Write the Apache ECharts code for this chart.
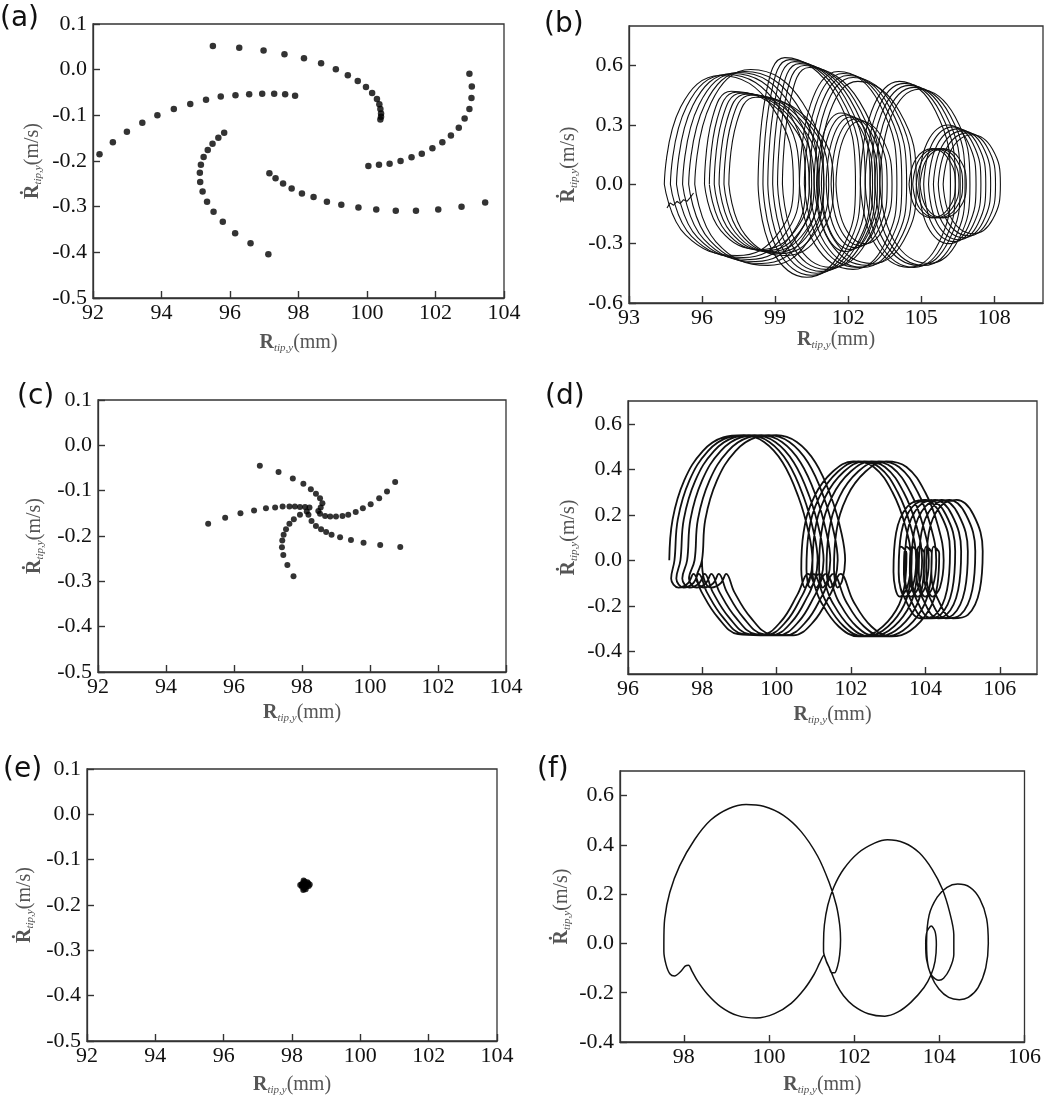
<!DOCTYPE html>
<html>
<head>
<meta charset="utf-8">
<script src="https://cdn.jsdelivr.net/npm/echarts@6/dist/echarts.min.js"></script>
<style>
  html, body { margin: 0; padding: 0; background: #fff; }
  #main { width: 1044px; height: 1097px; }
</style>
</head>
<body>
<div id="main"></div>
<script>
// ---- tick labels ----
const ticksXace = [92, 94, 96, 98, 100, 102, 104];
const ticksYace = [-0.5, -0.4, -0.3, -0.2, -0.1, 0, 0.1];
const ticksXb = [93, 96, 99, 102, 105, 108];
const ticksYb = [-0.6, -0.3, 0, 0.3, 0.6];
const ticksXd = [96, 98, 100, 102, 104, 106];
const ticksYd = [-0.4, -0.2, 0, 0.2, 0.4, 0.6];
const ticksXf = [98, 100, 102, 104, 106];
const ticksYf = [-0.4, -0.2, 0, 0.2, 0.4, 0.6];

// ---- (a) poincare points, five arms ----
const aArm1 = [[95.50,0.052],[96.27,0.048],[96.98,0.042],[97.59,0.034],[98.16,0.025],[98.66,0.014],[99.09,0.001],[99.44,-0.012],[99.73,-0.025],[99.97,-0.038],[100.15,-0.051],[100.29,-0.064],[100.36,-0.076],[100.39,-0.086],[100.41,-0.096],[100.41,-0.103],[100.39,-0.109]];
const aArm2 = [[92.19,-0.185],[92.58,-0.159],[92.99,-0.136],[93.44,-0.116],[93.88,-0.100],[94.36,-0.086],[94.84,-0.075],[95.30,-0.066],[95.73,-0.059],[96.16,-0.056],[96.56,-0.054],[96.94,-0.053],[97.29,-0.053],[97.61,-0.054],[97.90,-0.057]];
const aArm3 = [[95.83,-0.138],[95.66,-0.149],[95.49,-0.162],[95.35,-0.176],[95.23,-0.191],[95.15,-0.208],[95.12,-0.226],[95.13,-0.246],[95.20,-0.267],[95.33,-0.289],[95.52,-0.311],[95.79,-0.333],[96.15,-0.358],[96.60,-0.380],[97.12,-0.404]];
const aArm4 = [[97.15,-0.227],[97.33,-0.238],[97.55,-0.249],[97.80,-0.260],[98.10,-0.271],[98.44,-0.279],[98.83,-0.289],[99.25,-0.296],[99.75,-0.302],[100.27,-0.306],[100.84,-0.309],[101.43,-0.309],[102.08,-0.306],[102.76,-0.300],[103.45,-0.291]];
const aArm5 = [[100.04,-0.211],[100.35,-0.208],[100.66,-0.206],[100.98,-0.200],[101.30,-0.192],[101.60,-0.184],[101.91,-0.172],[102.20,-0.159],[102.45,-0.144],[102.68,-0.127],[102.85,-0.107],[102.99,-0.086],[103.05,-0.062],[103.06,-0.037],[102.99,-0.009]];

// ---- (c) poincare points ----
const cArm1 = [[96.76,-0.045],[97.31,-0.059],[97.73,-0.073],[98.04,-0.085],[98.26,-0.097],[98.41,-0.107],[98.53,-0.117],[98.60,-0.128],[98.55,-0.137],[98.48,-0.145]];
const cArm2 = [[95.24,-0.173],[95.74,-0.160],[96.19,-0.150],[96.59,-0.144],[96.94,-0.139],[97.21,-0.137],[97.43,-0.135],[97.63,-0.135],[97.79,-0.135],[97.94,-0.136],[98.09,-0.136],[98.22,-0.137]];
const cArm3 = [[98.14,-0.146],[97.94,-0.153],[97.76,-0.163],[97.63,-0.173],[97.53,-0.185],[97.46,-0.197],[97.42,-0.210],[97.41,-0.225],[97.45,-0.242],[97.57,-0.264],[97.75,-0.289]];
const cArm4 = [[98.19,-0.153],[98.28,-0.167],[98.41,-0.178],[98.56,-0.185],[98.71,-0.191],[98.87,-0.197],[99.12,-0.203],[99.44,-0.209],[99.81,-0.215],[100.30,-0.220],[100.89,-0.224]];
const cArm5 = [[98.53,-0.151],[98.68,-0.156],[98.83,-0.157],[99.00,-0.157],[99.19,-0.156],[99.36,-0.153],[99.58,-0.147],[99.79,-0.139],[100.02,-0.130],[100.27,-0.117],[100.50,-0.102],[100.74,-0.081]];

// ---- (e) poincare points (tight cluster) ----
const ePts = [[98.34,-0.146],[98.37,-0.148],[98.33,-0.151],[98.28,-0.154],[98.24,-0.156],[98.30,-0.157],[98.36,-0.155],[98.42,-0.154],[98.47,-0.152],[98.52,-0.155],[98.49,-0.158],[98.43,-0.159],[98.38,-0.161],[98.35,-0.164],[98.33,-0.167],[98.40,-0.165],[98.29,-0.160],[98.45,-0.150]];

// ---- (f) periodic orbit ----
const fOrbit = [[97.53,0],[97.55,0.101],[97.67,0.208],[97.90,0.315],[98.25,0.421],[98.63,0.501],[99.06,0.548],[99.46,0.564],[99.87,0.557],[100.33,0.521],[100.75,0.455],[101.14,0.355],[101.41,0.248],[101.58,0.155],[101.66,0.075],[101.68,0.015],[101.66,-0.045],[101.61,-0.092],[101.54,-0.119],[101.47,-0.119],[101.41,-0.096],[101.33,-0.065],[101.28,-0.032],[101.28,0],
[101.30,0.075],[101.38,0.155],[101.52,0.228],[101.75,0.301],[102.10,0.368],[102.49,0.408],[102.78,0.421],[103.18,0.408],[103.53,0.368],[103.83,0.301],[104.07,0.221],[104.24,0.128],[104.34,0.035],[104.34,-0.045],[104.24,-0.105],[104.10,-0.141],[103.99,-0.149],[103.83,-0.132],[103.73,-0.085],[103.70,0],
[103.76,0.115],[103.95,0.188],[104.18,0.228],[104.43,0.241],[104.72,0.228],[104.95,0.181],[105.11,0.101],[105.15,0],[105.09,-0.099],[104.91,-0.179],[104.68,-0.219],[104.47,-0.228],[104.22,-0.219],[103.99,-0.185],[103.81,-0.132],[103.70,-0.065],[103.68,0],
[103.71,0.048],[103.81,0.071],[103.90,0.048],[103.93,-0.005],[103.90,-0.072],[103.81,-0.125],[103.64,-0.179],
[103.33,-0.239],[103.02,-0.279],[102.72,-0.295],[102.33,-0.285],[101.98,-0.252],[101.75,-0.212],[101.58,-0.165],[101.45,-0.112],[101.35,-0.075],[101.29,-0.048],
[101.19,-0.079],[101.06,-0.125],[100.83,-0.185],[100.52,-0.243],[100.13,-0.285],[99.70,-0.303],[99.25,-0.292],[98.86,-0.256],[98.55,-0.205],[98.32,-0.152],[98.19,-0.112],[98.11,-0.088],[98.03,-0.092],[97.92,-0.115],[97.78,-0.132],[97.67,-0.123],[97.58,-0.085],[97.53,-0.032],[97.53,0]];

// ---- (d) quasi-periodic trajectory, six passes ----
const dPass1 = [[97.11,0],[97.20,0.18],[97.51,0.35],[98.01,0.48],[98.56,0.54],[99.11,0.55],[99.66,0.52],[100.16,0.43],[100.58,0.28],[100.86,0.12],[100.96,0],[100.88,-0.09],[100.76,-0.12],
[100.66,-0.04],[100.72,0.12],[101.01,0.28],[101.51,0.39],[102.06,0.435],[102.61,0.41],[103.11,0.3],[103.46,0.15],[103.61,0],[103.51,-0.12],[103.31,-0.16],
[103.14,-0.05],[103.21,0.12],[103.51,0.235],[103.96,0.265],[104.41,0.2],[104.66,0.04],[104.58,-0.13],[104.26,-0.24],[103.86,-0.255],[103.48,-0.18],[103.28,-0.06],
[103.34,0.06],[103.49,0.03],[103.44,-0.11],[103.21,-0.22],
[102.71,-0.31],[102.21,-0.335],[101.66,-0.29],[101.18,-0.18],[100.84,-0.06],
[100.56,-0.15],[100.11,-0.27],[99.56,-0.33],[98.96,-0.325],[98.41,-0.25],[97.98,-0.14],[97.76,-0.06],[97.62,-0.1],[97.36,-0.12],[97.16,-0.08]];
const dPass2 = [[97.25,0],[97.34,0.18],[97.65,0.35],[98.15,0.48],[98.7,0.54],[99.25,0.55],[99.8,0.52],[100.3,0.43],[100.72,0.28],[101.0,0.12],[101.1,0],[101.02,-0.09],[100.9,-0.12],
[100.8,-0.04],[100.86,0.12],[101.15,0.28],[101.65,0.39],[102.2,0.435],[102.75,0.41],[103.25,0.3],[103.6,0.15],[103.75,0],[103.65,-0.12],[103.45,-0.16],
[103.28,-0.05],[103.35,0.12],[103.65,0.235],[104.1,0.265],[104.55,0.2],[104.8,0.04],[104.72,-0.13],[104.4,-0.24],[104.0,-0.255],[103.62,-0.18],[103.42,-0.06],
[103.48,0.06],[103.63,0.03],[103.58,-0.11],[103.35,-0.22],
[102.85,-0.31],[102.35,-0.335],[101.8,-0.29],[101.32,-0.18],[100.98,-0.06],
[100.7,-0.15],[100.25,-0.27],[99.7,-0.33],[99.1,-0.325],[98.55,-0.25],[98.12,-0.14],[97.9,-0.06],[97.76,-0.1],[97.5,-0.12],[97.3,-0.08]];
const dPass3 = [[97.41,0],[97.5,0.18],[97.81,0.35],[98.31,0.48],[98.86,0.54],[99.41,0.55],[99.96,0.52],[100.46,0.43],[100.88,0.28],[101.16,0.12],[101.26,0],[101.18,-0.09],[101.06,-0.12],
[100.96,-0.04],[101.02,0.12],[101.31,0.28],[101.81,0.39],[102.36,0.435],[102.91,0.41],[103.41,0.3],[103.76,0.15],[103.91,0],[103.81,-0.12],[103.61,-0.16],
[103.44,-0.05],[103.51,0.12],[103.81,0.235],[104.26,0.265],[104.71,0.2],[104.96,0.04],[104.88,-0.13],[104.56,-0.24],[104.16,-0.255],[103.78,-0.18],[103.58,-0.06],
[103.64,0.06],[103.79,0.03],[103.74,-0.11],[103.51,-0.22],
[103.01,-0.31],[102.51,-0.335],[101.96,-0.29],[101.48,-0.18],[101.14,-0.06],
[100.86,-0.15],[100.41,-0.27],[99.86,-0.33],[99.26,-0.325],[98.71,-0.25],[98.28,-0.14],[98.06,-0.06],[97.92,-0.1],[97.66,-0.12],[97.46,-0.08]];
const dPass4 = [[97.59,0],[97.68,0.18],[97.99,0.35],[98.49,0.48],[99.04,0.54],[99.59,0.55],[100.14,0.52],[100.64,0.43],[101.06,0.28],[101.34,0.12],[101.44,0],[101.36,-0.09],[101.24,-0.12],
[101.14,-0.04],[101.2,0.12],[101.49,0.28],[101.99,0.39],[102.54,0.435],[103.09,0.41],[103.59,0.3],[103.94,0.15],[104.09,0],[103.99,-0.12],[103.79,-0.16],
[103.62,-0.05],[103.69,0.12],[103.99,0.235],[104.44,0.265],[104.89,0.2],[105.14,0.04],[105.06,-0.13],[104.74,-0.24],[104.34,-0.255],[103.96,-0.18],[103.76,-0.06],
[103.82,0.06],[103.97,0.03],[103.92,-0.11],[103.69,-0.22],
[103.19,-0.31],[102.69,-0.335],[102.14,-0.29],[101.66,-0.18],[101.32,-0.06],
[101.04,-0.15],[100.59,-0.27],[100.04,-0.33],[99.44,-0.325],[98.89,-0.25],[98.46,-0.14],[98.24,-0.06],[98.1,-0.1],[97.84,-0.12],[97.64,-0.08]];
const dPass5 = [[97.79,0],[97.88,0.18],[98.19,0.35],[98.69,0.48],[99.24,0.54],[99.79,0.55],[100.34,0.52],[100.84,0.43],[101.26,0.28],[101.54,0.12],[101.64,0],[101.56,-0.09],[101.44,-0.12],
[101.34,-0.04],[101.4,0.12],[101.69,0.28],[102.19,0.39],[102.74,0.435],[103.29,0.41],[103.79,0.3],[104.14,0.15],[104.29,0],[104.19,-0.12],[103.99,-0.16],
[103.82,-0.05],[103.89,0.12],[104.19,0.235],[104.64,0.265],[105.09,0.2],[105.34,0.04],[105.26,-0.13],[104.94,-0.24],[104.54,-0.255],[104.16,-0.18],[103.96,-0.06],
[104.02,0.06],[104.17,0.03],[104.12,-0.11],[103.89,-0.22],
[103.39,-0.31],[102.89,-0.335],[102.34,-0.29],[101.86,-0.18],[101.52,-0.06],
[101.24,-0.15],[100.79,-0.27],[100.24,-0.33],[99.64,-0.325],[99.09,-0.25],[98.66,-0.14],[98.44,-0.06],[98.3,-0.1],[98.04,-0.12],[97.84,-0.08]];
const dPass6 = [[97.99,0],[98.08,0.18],[98.39,0.35],[98.89,0.48],[99.44,0.54],[99.99,0.55],[100.54,0.52],[101.04,0.43],[101.46,0.28],[101.74,0.12],[101.84,0],[101.76,-0.09],[101.64,-0.12],
[101.54,-0.04],[101.6,0.12],[101.89,0.28],[102.39,0.39],[102.94,0.435],[103.49,0.41],[103.99,0.3],[104.34,0.15],[104.49,0],[104.39,-0.12],[104.19,-0.16],
[104.02,-0.05],[104.09,0.12],[104.39,0.235],[104.84,0.265],[105.29,0.2],[105.54,0.04],[105.46,-0.13],[105.14,-0.24],[104.74,-0.255],[104.36,-0.18],[104.16,-0.06],
[104.22,0.06],[104.37,0.03],[104.32,-0.11],[104.09,-0.22],
[103.59,-0.31],[103.09,-0.335],[102.54,-0.29],[102.06,-0.18],[101.72,-0.06],
[101.44,-0.15],[100.99,-0.27],[100.44,-0.33],[99.84,-0.325],[99.29,-0.25],[98.86,-0.14],[98.64,-0.06],[98.5,-0.1],[98.24,-0.12],[98.04,-0.08],[97.99,0]];

// ---- (b) chaotic trajectory, read as groups of loops ----
const bLoops = [
  // left outer group
  [[94.45,0],[95.12,0.39],[96.75,0.55],[98.88,0.39],[99.75,0],[99.08,-0.256],[97.45,-0.36],[95.32,-0.256]],
  [[94.70,0],[95.37,0.394],[97.00,0.555],[99.13,0.394],[100.0,0],[99.33,-0.263],[97.70,-0.37],[95.57,-0.263]],
  [[94.95,0],[95.62,0.398],[97.25,0.56],[99.38,0.398],[100.25,0],[99.58,-0.27],[97.95,-0.38],[95.82,-0.27]],
  [[95.20,0],[95.87,0.401],[97.50,0.565],[99.63,0.401],[100.5,0],[99.83,-0.277],[98.2,-0.39],[96.07,-0.277]],
  [[95.45,0],[96.12,0.405],[97.75,0.57],[99.88,0.405],[100.75,0],[100.08,-0.284],[98.45,-0.40],[96.32,-0.284]],
  [[95.70,0],[96.37,0.412],[98.0,0.58],[100.13,0.412],[101.0,0],[100.33,-0.291],[98.7,-0.41],[96.57,-0.291]],
  // left inner group
  [[96.1,0],[96.42,0.334],[97.2,0.47],[99.47,0.334],[100.4,0],[99.82,-0.234],[98.4,-0.33],[96.77,-0.234]],
  [[96.3,0],[96.62,0.33],[97.4,0.465],[99.67,0.33],[100.6,0],[100.02,-0.238],[98.6,-0.335],[96.97,-0.238]],
  [[96.5,0],[96.82,0.327],[97.6,0.46],[99.87,0.327],[100.8,0],[100.22,-0.241],[98.8,-0.34],[97.17,-0.241]],
  [[96.7,0],[97.02,0.323],[97.8,0.455],[100.07,0.323],[101.0,0],[100.42,-0.245],[99.0,-0.345],[97.37,-0.245]],
  [[96.9,0],[97.22,0.32],[98.0,0.45],[100.27,0.32],[101.2,0],[100.62,-0.249],[99.2,-0.35],[97.57,-0.249]],
  [[97.1,0],[97.42,0.312],[98.2,0.44],[100.47,0.312],[101.4,0],[100.82,-0.256],[99.4,-0.36],[97.77,-0.256]],
  // tall group
  [[98.3,0],[98.62,0.454],[99.4,0.64],[101.46,0.454],[102.3,0],[101.72,-0.334],[100.3,-0.47],[98.88,-0.334]],
  [[98.5,0],[98.82,0.447],[99.6,0.63],[101.66,0.447],[102.5,0],[101.92,-0.327],[100.5,-0.46],[99.08,-0.327]],
  [[98.7,0],[99.02,0.44],[99.8,0.62],[101.86,0.44],[102.7,0],[102.12,-0.32],[100.7,-0.45],[99.28,-0.32]],
  [[98.9,0],[99.22,0.433],[100.0,0.61],[102.06,0.433],[102.9,0],[102.32,-0.312],[100.9,-0.44],[99.48,-0.312]],
  [[99.1,0],[99.42,0.426],[100.2,0.6],[102.26,0.426],[103.1,0],[102.52,-0.305],[101.1,-0.43],[99.68,-0.305]],
  [[99.3,0],[99.62,0.419],[100.4,0.59],[102.46,0.419],[103.3,0],[102.72,-0.298],[101.3,-0.42],[99.88,-0.298]],
  // middle group
  [[100.0,0],[100.46,0.405],[101.6,0.57],[103.3,0.405],[104.0,0],[103.48,-0.305],[102.2,-0.43],[100.64,-0.305]],
  [[100.2,0],[100.66,0.398],[101.8,0.56],[103.5,0.398],[104.2,0],[103.68,-0.298],[102.4,-0.42],[100.84,-0.298]],
  [[100.4,0],[100.86,0.39],[102.0,0.55],[103.7,0.39],[104.4,0],[103.88,-0.298],[102.6,-0.42],[101.04,-0.298]],
  [[100.6,0],[101.06,0.383],[102.2,0.54],[103.9,0.383],[104.6,0],[104.08,-0.291],[102.8,-0.41],[101.24,-0.291]],
  [[100.8,0],[101.26,0.369],[102.4,0.52],[104.1,0.369],[104.8,0],[104.28,-0.284],[103.0,-0.40],[101.44,-0.284]],
  // dense core
  [[100.7,0],[100.99,0.256],[101.7,0.36],[102.62,0.256],[103.0,0],[102.68,-0.241],[101.9,-0.34],[101.05,-0.241]],
  [[100.9,0],[101.19,0.249],[101.9,0.35],[102.82,0.249],[103.2,0],[102.88,-0.234],[102.1,-0.33],[101.25,-0.234]],
  [[101.1,0],[101.39,0.241],[102.1,0.34],[103.02,0.241],[103.4,0],[103.08,-0.227],[102.3,-0.32],[101.45,-0.227]],
  [[101.3,0],[101.59,0.234],[102.3,0.33],[103.22,0.234],[103.6,0],[103.28,-0.22],[102.5,-0.31],[101.65,-0.22]],
  [[101.5,0],[101.79,0.227],[102.5,0.32],[103.42,0.227],[103.8,0],[103.48,-0.213],[102.7,-0.30],[101.85,-0.213]],
  // right big group
  [[102.5,0],[102.96,0.369],[104.1,0.52],[105.59,0.369],[106.2,0],[105.71,-0.298],[104.5,-0.42],[103.08,-0.298]],
  [[102.7,0],[103.16,0.362],[104.3,0.51],[105.79,0.362],[106.4,0],[105.91,-0.298],[104.7,-0.42],[103.28,-0.298]],
  [[102.9,0],[103.36,0.355],[104.5,0.5],[105.99,0.355],[106.6,0],[106.11,-0.291],[104.9,-0.41],[103.48,-0.291]],
  [[103.1,0],[103.56,0.348],[104.7,0.49],[106.19,0.348],[106.8,0],[106.31,-0.291],[105.1,-0.41],[103.68,-0.291]],
  [[103.3,0],[103.76,0.341],[104.9,0.48],[106.39,0.341],[107.0,0],[106.51,-0.284],[105.3,-0.40],[103.88,-0.284]],
  // rightmost group
  [[104.9,0],[105.25,0.213],[106.1,0.3],[106.92,0.213],[107.25,0],[106.93,-0.213],[106.15,-0.3],[105.26,-0.213]],
  [[105.1,0],[105.45,0.206],[106.3,0.29],[107.12,0.206],[107.45,0],[107.13,-0.206],[106.35,-0.29],[105.46,-0.206]],
  [[105.3,0],[105.65,0.199],[106.5,0.28],[107.32,0.199],[107.65,0],[107.33,-0.199],[106.55,-0.28],[105.66,-0.199]],
  [[105.5,0],[105.85,0.192],[106.7,0.27],[107.52,0.192],[107.85,0],[107.53,-0.192],[106.75,-0.27],[105.86,-0.192]],
  [[105.7,0],[106.05,0.185],[106.9,0.26],[107.72,0.185],[108.05,0],[107.73,-0.185],[106.95,-0.26],[106.06,-0.185]],
  [[105.9,0],[106.25,0.178],[107.1,0.25],[107.92,0.178],[108.25,0],[107.93,-0.178],[107.15,-0.25],[106.26,-0.178]],
  // inner right small group
  [[104.5,0],[104.78,0.128],[105.45,0.18],[106.12,0.128],[106.4,0],[106.12,-0.121],[105.45,-0.17],[104.78,-0.121]],
  [[104.65,0],[104.93,0.128],[105.6,0.18],[106.27,0.128],[106.55,0],[106.27,-0.121],[105.6,-0.17],[104.93,-0.121]],
  [[104.8,0],[105.08,0.128],[105.75,0.18],[106.42,0.128],[106.7,0],[106.42,-0.121],[105.75,-0.17],[105.08,-0.121]],
  [[104.95,0],[105.23,0.128],[105.9,0.18],[106.57,0.128],[106.85,0],[106.57,-0.121],[105.9,-0.17],[105.23,-0.121]]
];
const bZigzag = [[94.56,-0.120],[94.69,-0.094],[94.83,-0.106],[94.97,-0.086],[95.10,-0.098],[95.24,-0.078],[95.38,-0.086],[95.52,-0.066],[95.65,-0.044]];

// ---- layout ----
const panels = [
  { grid: { left: 93, top: 24, width: 411, height: 274 }, x: [92, 104, ticksXace], y: [-0.5, 0.1, ticksYace], xGap: 34, yGap: 49 },
  { grid: { left: 629, top: 26, width: 414, height: 277 }, x: [93, 110, ticksXb], y: [-0.6, 0.8, ticksYb], xGap: 25, yGap: 49 },
  { grid: { left: 98, top: 400, width: 408, height: 272 }, x: [92, 104, ticksXace], y: [-0.5, 0.1, ticksYace], xGap: 30, yGap: 52 },
  { grid: { left: 628, top: 401, width: 409, height: 273 }, x: [96, 107, ticksXd], y: [-0.5, 0.7, ticksYd], xGap: 30, yGap: 48 },
  { grid: { left: 87, top: 769, width: 410, height: 274 }, x: [92, 104, ticksXace], y: [-0.5, 0.1, ticksYace], xGap: 33, yGap: 51 },
  { grid: { left: 620, top: 771, width: 412, height: 274 }, x: [96.5, 106, ticksXf], y: [-0.4, 0.7, ticksYf], xGap: 32, yGap: 47 }
];
const panelLabels = [['(a)', 0, 5], ['(b)', 544, 11], ['(c)', 17, 383], ['(d)', 545, 383], ['(e)', 3, 756], ['(f)', 537, 756]];

const serif = 'Liberation Serif';
const axisColor = '#333';
const nameRich = {
  b: { fontFamily: serif, fontWeight: 'bold', fontSize: 20, color: '#555', lineHeight: 22 },
  s: { fontFamily: serif, fontStyle: 'italic', fontSize: 11, color: '#555', lineHeight: 22, verticalAlign: 'bottom', padding: [8, 0, 0, 0] },
  u: { fontFamily: serif, fontSize: 20, color: '#555', lineHeight: 22 }
};
const tickRich = { t: { fontFamily: serif, fontSize: 22, color: '#111', lineHeight: 24 } };
const nPanels = panels.length;

const grids = [], xAxes = [], yAxes = [], series = [];
panels.forEach((p, i) => {
  grids.push(Object.assign({ show: true, borderColor: axisColor, borderWidth: 1.3, backgroundColor: 'transparent' }, p.grid));
  // the visible axes sit "on zero" of a hidden 0..1 helper axis, i.e. on the frame's bottom / left edge
  xAxes.push({
    type: 'value', gridIndex: i, min: p.x[0], max: p.x[1],
    name: '{b|R}{s|tip,y}{u|(mm)}', nameLocation: 'middle', nameGap: p.xGap,
    nameTextStyle: { rich: nameRich },
    axisLine: { show: true, onZero: true, onZeroAxisIndex: nPanels + i, lineStyle: { color: axisColor, width: 1.3 } },
    axisTick: { show: true, inside: true, length: 7, customValues: p.x[2], lineStyle: { color: axisColor, width: 1.4 } },
    axisLabel: { customValues: p.x[2], margin: 3, rich: tickRich, formatter: v => '{t|' + Math.round(v) + '}' },
    splitLine: { show: false }
  });
  yAxes.push({
    type: 'value', gridIndex: i, min: p.y[0], max: p.y[1],
    name: '{b|Ṙ}{s|tip,y}{u|(m/s)}', nameLocation: 'middle', nameGap: p.yGap,
    nameTextStyle: { rich: nameRich },
    axisLine: { show: true, onZero: true, onZeroAxisIndex: nPanels + i, lineStyle: { color: axisColor, width: 1.3 } },
    axisTick: { show: true, inside: true, length: 7, customValues: p.y[2], lineStyle: { color: axisColor, width: 1.4 } },
    axisLabel: { customValues: p.y[2], margin: 6, rich: tickRich, formatter: v => '{t|' + v.toFixed(1) + '}' },
    splitLine: { show: false }
  });
});
panels.forEach((p, i) => {
  xAxes.push({ type: 'value', gridIndex: i, min: 0, max: 1, show: false, axisLine: { onZero: false } });
  yAxes.push({ type: 'value', gridIndex: i, min: 0, max: 1, show: false, axisLine: { onZero: false } });
});

function dots(idx, data, size) {
  series.push({ type: 'scatter', xAxisIndex: idx, yAxisIndex: idx, data: data, symbol: 'circle', symbolSize: size, itemStyle: { color: '#000' }, silent: true });
}
function curve(idx, data, smooth, width) {
  series.push({ type: 'line', xAxisIndex: idx, yAxisIndex: idx, data: data, smooth: smooth, symbol: 'none', showSymbol: false, lineStyle: { color: '#111', width: width }, silent: true });
}

dots(0, [].concat(aArm1, aArm2, aArm3, aArm4, aArm5), 6.5);
dots(2, [].concat(cArm1, cArm2, cArm3, cArm4, cArm5), 6);
dots(4, ePts, 6);

bLoops.forEach(loop => curve(1, loop.concat([loop[0]]), 0.45, 1.1));
curve(1, bZigzag, false, 1.1);

curve(3, [].concat(dPass1, dPass2, dPass3, dPass4, dPass5, dPass6), 0.4, 1.8);

curve(5, fOrbit, 0.3, 1.5);

const chart = echarts.init(document.getElementById('main'), null, { renderer: 'canvas' });
chart.setOption({
  animation: false,
  backgroundColor: '#fff',
  textStyle: { fontFamily: serif },
  grid: grids,
  xAxis: xAxes,
  yAxis: yAxes,
  series: series,
  graphic: panelLabels.map(l => ({
    type: 'text', left: l[1], top: l[2],
    style: { text: l[0], font: '28px "DejaVu Sans", sans-serif', fill: '#111' }
  }))
});
</script>
</body>
</html>
